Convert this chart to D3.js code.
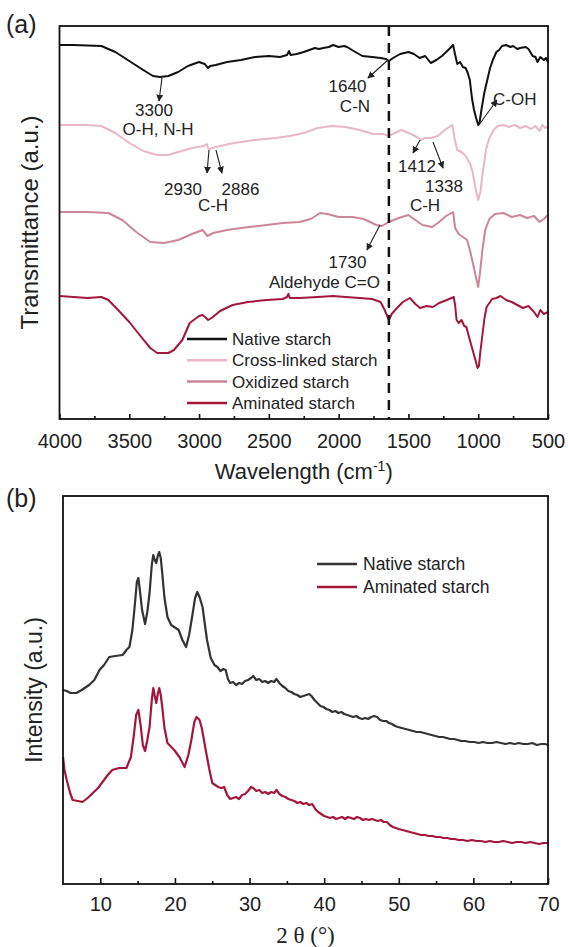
<!DOCTYPE html>
<html>
<head>
<meta charset="utf-8">
<script src="https://cdn.jsdelivr.net/npm/d3@7"></script>
<style>
  body { margin: 0; background: #fff; }
  text { font-family: "Liberation Sans", Arial, sans-serif; fill: #222; }
</style>
</head>
<body>
<script>
// ---- FTIR data (wavenumber cm-1, transmittance a.u.) ----
var ftirNative = [[4000,374],[3900,374],[3800,373.5],[3700,373],[3600,367],[3500,358],[3400,349],[3330,343],[3280,342],[3220,343],[3150,347],[3080,353],[3000,357],[2960,355],[2935,351],[2920,353],[2880,354],[2800,357],[2700,359],[2600,362],[2500,363],[2420,362],[2370,364],[2355,368],[2345,364],[2300,365],[2250,367],[2170,371],[2140,370],[2110,371],[2070,372],[2040,374],[2000,372],[1960,373],[1940,372],[1880,367],[1830,363],[1760,362],[1700,361],[1660,360],[1640,358],[1610,361],[1560,365],[1500,367],[1460,365],[1420,361],[1380,363],[1340,356],[1300,359],[1260,363],[1230,367],[1200,371],[1180,374],[1165,364],[1150,355],[1130,357],[1110,352],[1090,351],[1075,346],[1060,339],[1045,321],[1030,309],[1015,301],[1000,294],[990,297],[975,311],[955,327],[935,339],[915,351],[895,359],[870,367],[850,369],[830,373],[800,374],[770,372],[750,373],[720,370],[700,371],[660,372],[640,370],[610,363],[590,362],[575,357],[555,362],[530,359],[515,361],[500,357]];

var ftirCross = [[4000,294],[3800,294],[3700,293],[3600,286],[3500,276],[3400,268],[3300,264],[3220,264],[3150,267],[3050,271],[2970,273],[2945,275],[2930,269],[2910,271],[2850,273],[2750,276],[2600,279],[2450,281],[2350,283],[2250,286],[2150,291],[2050,293],[1950,292],[1850,289],[1750,285],[1680,285],[1640,283],[1600,286],[1550,289],[1480,285],[1440,282],[1412,279],[1380,281],[1340,281],[1290,283],[1240,289],[1185,294],[1170,281],[1150,269],[1120,267],[1090,263],[1060,256],[1040,247],[1020,231],[1000,219],[985,227],[965,249],[945,269],[920,281],[890,289],[860,293],[820,294],[780,292],[740,294],[700,291],[660,293],[620,290],[590,293],[560,288],[540,294],[520,291],[500,293]];

var ftirOxidized = [[4000,207],[3800,207],[3650,206],[3550,199],[3450,187],[3350,177],[3250,176],[3150,179],[3050,185],[2975,189],[2940,183],[2900,186],[2800,189],[2700,191],[2515,194],[2400,196],[2280,197],[2200,200],[2133,206],[2080,205],[2000,202],[1900,202],[1820,200],[1730,194],[1690,193],[1640,197],[1570,201],[1500,204],[1450,199],[1400,194],[1330,192],[1280,197],[1230,203],[1180,207],[1165,191],[1140,185],[1110,182],[1080,179],[1060,169],[1040,157],[1020,144],[1000,132],[985,149],[970,169],[950,189],[920,200],[880,205],[820,206],[760,202],[700,204],[650,201],[600,203],[560,197],[530,200],[500,204]];

var ftirAminated = [[4000,123],[3900,122],[3800,121],[3700,122],[3650,119],[3580,109],[3500,97],[3420,83],[3350,71],[3300,66],[3220,66],[3180,69],[3120,79],[3067,96],[3000,103],[2975,104],[2950,101],[2935,99],[2900,102],[2850,108],[2760,114],[2650,117],[2515,119],[2400,120],[2370,122],[2360,125],[2350,121],[2280,121],[2150,122],[2040,123],[1950,122],[1850,121],[1760,120],[1700,117],[1670,109],[1640,99],[1620,105],[1582,111],[1540,117],[1490,121],[1450,115],[1417,111],[1370,113],[1325,112],[1280,116],[1225,119],[1175,122],[1165,113],[1155,99],[1140,96],[1120,99],[1100,93],[1085,92],[1070,84],[1060,79],[1040,69],[1020,59],[1005,51],[995,53],[985,67],[970,84],[955,101],[940,112],[900,120],[870,121],[840,123],[800,119],[760,117],[720,114],[680,111],[640,113],[600,107],[575,102],[555,109],[530,105],[500,107]];

var ftirNames = ["Native starch", "Cross-linked starch", "Oxidized starch", "Aminated starch"];
var ftirTicks = [4000, 3500, 3000, 2500, 2000, 1500, 1000, 500];
var ftirMinor = [3750, 3250, 2750, 2250, 1750, 1250, 750];
var markerWave = 1640;

// peak labels (wavenumber, a.u.)
var ftirLabels = [
  {text: "3300", w: 3323, v: 303, anchor: "middle"},
  {text: "O-H, N-H", w: 3294, v: 284, anchor: "middle"},
  {text: "2930", w: 3115, v: 224, anchor: "middle"},
  {text: "2886", w: 2703, v: 224, anchor: "middle"},
  {text: "C-H", w: 2900, v: 208, anchor: "middle"},
  {text: "1640", w: 1937, v: 327, anchor: "middle"},
  {text: "C-N", w: 1883, v: 307, anchor: "middle"},
  {text: "C-OH", w: 894, v: 314, anchor: "start"},
  {text: "1412", w: 1439, v: 247, anchor: "middle"},
  {text: "1338", w: 1245, v: 227, anchor: "middle"},
  {text: "C-H", w: 1381, v: 208, anchor: "middle"},
  {text: "1730", w: 1937, v: 151, anchor: "middle"},
  {text: "Aldehyde C=O", w: 1704, v: 131, anchor: "end"}
];
// arrows [from w, from v, to w, to v], head at "to"
var ftirArrows = [
  [3266, 341, 3287, 318],
  [2929, 269, 2943, 246],
  [2879, 269, 2836, 246],
  [1647, 359, 1790, 341],
  [995, 294, 866, 319],
  [1417, 279, 1467, 266],
  [1324, 277, 1252, 251],
  [1704, 194, 1797, 169]
];

// ---- XRD data (2 theta deg, intensity a.u.) ----
var xrdNative = [[5,194],[5.5,193],[6,191],[6.8,191],[7.5,194],[8.5,199],[9.2,204],[9.9,214],[10.5,219],[11.2,227],[12,228],[13,229],[13.5,234],[13.9,237],[14.3,254],[14.6,277],[14.9,302],[15.1,306],[15.3,294],[15.6,274],[16,260],[16.3,272],[16.6,291],[16.9,319],[17.1,329],[17.3,324],[17.5,321],[17.7,328],[17.9,332],[18.1,326],[18.3,311],[18.6,286],[19,267],[19.5,259],[19.9,257],[20.5,254],[21,244],[21.5,237],[21.9,249],[22.3,267],[22.7,286],[23,292],[23.3,287],[23.7,277],[24.3,244],[24.8,226],[25.3,219],[25.7,217],[26.1,213],[26.5,215],[26.8,214],[27.1,205],[27.4,201],[27.8,202],[28.2,199],[28.6,201],[29,200],[29.4,203],[29.8,204],[30.2,206],[30.5,208],[30.9,204],[31.3,205],[31.7,202],[32.1,203],[32.5,201],[32.9,203],[33.3,202],[33.6,205],[34,201],[34.4,198],[34.8,196],[35.2,193],[35.6,192],[36,190],[36.4,189],[36.8,187],[37.2,188],[37.6,189],[38,190],[38.3,188],[38.7,184],[39.1,181],[39.5,178],[39.9,177],[40.3,175],[40.7,174],[41.1,172],[41.5,173],[41.9,171],[42.3,172],[42.7,170],[43.1,169],[43.5,168],[43.9,167],[44.3,168],[44.7,166],[45.1,165],[45.5,166],[45.9,165],[46.3,167],[46.7,168],[47.1,167],[47.5,164],[47.9,163],[48.3,163],[48.7,161],[49.1,160],[49.5,158],[49.9,157],[50.4,156],[50.9,155],[51.4,154],[51.9,153],[52.4,152],[52.9,152],[53.4,151],[53.9,150],[54.4,149],[54.9,148],[55.4,147],[55.9,147],[56.4,146],[56.9,145],[57.4,145],[57.9,144],[58.4,143],[58.9,143],[59.5,142],[60.1,142],[60.7,141],[61.3,142],[61.9,141],[62.5,141],[63.1,142],[63.7,141],[64.3,140],[64.9,141],[65.5,140],[66.1,141],[66.7,140],[67.3,140],[67.9,141],[68.5,139],[69.1,140],[69.6,140],[70,139]];

var xrdAminated = [[5,127],[5.2,114],[5.5,104],[6,90],[6.3,84],[7,83],[7.6,82],[8.3,86],[9,91],[9.7,96],[10.3,102],[11,109],[11.6,114],[12.5,116],[13.5,116],[14.1,127],[14.5,149],[14.8,169],[15.1,174],[15.4,159],[15.7,139],[16,133],[16.3,144],[16.6,157],[16.9,184],[17.1,196],[17.3,188],[17.5,181],[17.7,190],[17.9,196],[18.1,189],[18.3,177],[18.6,156],[19,141],[19.9,134],[20.6,127],[21.3,117],[21.8,129],[22.2,144],[22.6,162],[22.9,167],[23.3,164],[23.6,156],[24.2,131],[24.6,115],[25,101],[25.4,99],[25.8,97],[26.2,96],[26.6,97],[27,89],[27.4,85],[27.8,86],[28.2,87],[28.6,85],[29,89],[29.4,90],[29.8,93],[30.2,97],[30.5,96],[30.9,93],[31.3,94],[31.7,91],[32.1,92],[32.5,90],[32.9,92],[33.3,91],[33.6,94],[34,90],[34.4,88],[34.8,87],[35.2,85],[35.6,84],[36,83],[36.4,81],[36.8,82],[37.2,80],[37.6,81],[38,79],[38.4,80],[38.8,75],[39.2,72],[39.6,70],[40,68],[40.4,67],[40.8,66],[41.2,67],[41.6,65],[42,66],[42.4,67],[42.8,65],[43.2,67],[43.6,66],[44,65],[44.4,67],[44.8,66],[45.2,64],[45.6,65],[46,64],[46.4,65],[46.8,64],[47.2,63],[47.6,64],[48,62],[48.4,62],[48.8,59],[49.2,57],[49.6,56],[50,55],[50.5,54],[51,53],[51.5,52],[52,51],[52.5,50],[53,49],[53.5,49],[54,48],[54.5,48],[55,47],[55.5,47],[56,46],[56.5,46],[57,45],[57.5,45],[58,44],[58.6,44],[59.2,43],[59.8,44],[60.4,43],[61,43],[61.6,42],[62.2,43],[62.8,42],[63.4,42],[64,43],[64.6,42],[65.2,41],[65.8,42],[66.4,42],[67,41],[67.6,42],[68.2,41],[68.8,40],[69.4,41],[70,41]];

var xrdNames = ["Native starch", "Aminated starch"];
var xrdTicks = [10, 20, 30, 40, 50, 60, 70];
var xrdMinor = [15, 25, 35, 45, 55, 65];

var ftirColors = ["#111111", "#e8b8c6", "#cc8698", "#a2173c"];
var xrdColors = ["#333333", "#a3173d"];

var svg = d3.select("body").append("svg")
    .attr("width", 568)
    .attr("height", 947);

// arrow head
svg.append("defs").append("marker")
    .attr("id", "head")
    .attr("viewBox", "0 0 10 10")
    .attr("refX", 9).attr("refY", 5)
    .attr("markerWidth", 7).attr("markerHeight", 7)
    .attr("markerUnits", "userSpaceOnUse")
    .attr("orient", "auto")
  .append("path")
    .attr("d", "M0,0L10,5L0,10Z")
    .attr("fill", "#222");

// ================= panel (a) =================
var boxA = {left: 59.5, right: 548, top: 26, bottom: 419};
var xA = d3.scaleLinear().domain([4000, 500]).range([boxA.left, boxA.right]);
var yA = d3.scaleLinear().domain([0, 393]).range([boxA.bottom, boxA.top]);

var gA = svg.append("g");

var lineA = d3.line()
    .x(function(d) { return xA(d[0]); })
    .y(function(d) { return yA(d[1]); });

gA.selectAll(".ftir")
  .data([ftirNative, ftirCross, ftirOxidized, ftirAminated])
  .enter().append("path")
    .attr("class", "ftir")
    .attr("d", lineA)
    .attr("fill", "none")
    .attr("stroke", function(d, i) { return ftirColors[i]; })
    .attr("stroke-width", 2)
    .attr("stroke-linejoin", "round");

gA.append("line")
    .attr("x1", xA(markerWave)).attr("x2", xA(markerWave))
    .attr("y1", boxA.top).attr("y2", boxA.bottom)
    .attr("stroke", "#111")
    .attr("stroke-width", 2.5)
    .attr("stroke-dasharray", "10,7");

gA.selectAll(".arr")
  .data(ftirArrows)
  .enter().append("line")
    .attr("class", "arr")
    .attr("x1", function(d) { return xA(d[0]); })
    .attr("y1", function(d) { return yA(d[1]); })
    .attr("x2", function(d) { return xA(d[2]); })
    .attr("y2", function(d) { return yA(d[3]); })
    .attr("stroke", "#222")
    .attr("stroke-width", 1.1)
    .attr("marker-end", "url(#head)");

gA.selectAll(".lab")
  .data(ftirLabels)
  .enter().append("text")
    .attr("class", "lab")
    .attr("x", function(d) { return xA(d.w); })
    .attr("y", function(d) { return yA(d.v); })
    .attr("text-anchor", function(d) { return d.anchor; })
    .style("font-size", "17px")
    .text(function(d) { return d.text; });

// legend (a)
var legA = gA.selectAll(".legA")
  .data(ftirNames)
  .enter().append("g")
    .attr("class", "legA")
    .attr("transform", function(d, i) { return "translate(187," + (339 + i * 21.3) + ")"; });
legA.append("line")
    .attr("x1", 0).attr("x2", 40)
    .attr("stroke", function(d, i) { return ftirColors[i]; })
    .attr("stroke-width", 2.5);
legA.append("text")
    .attr("x", 45).attr("dy", "0.35em")
    .style("font-size", "17px")
    .text(function(d) { return d; });

gA.append("rect")
    .attr("x", boxA.left).attr("y", boxA.top)
    .attr("width", boxA.right - boxA.left).attr("height", boxA.bottom - boxA.top)
    .attr("fill", "none").attr("stroke", "#111").attr("stroke-width", 1.8);

var axA = gA.append("g")
    .attr("transform", "translate(0," + boxA.bottom + ")")
    .call(d3.axisBottom(xA).tickValues(ftirTicks).tickSize(-5).tickPadding(15).tickFormat(d3.format("d")));
var axAm = gA.append("g")
    .attr("transform", "translate(0," + boxA.bottom + ")")
    .call(d3.axisBottom(xA).tickValues(ftirMinor).tickSize(-3).tickFormat(""));
[axA, axAm].forEach(function(a) {
  a.select(".domain").remove();
  a.selectAll("line").attr("stroke", "#111").attr("stroke-width", 1.6);
  a.selectAll("text").style("font-size", "20px").style("font-family", "'Liberation Sans', Arial, sans-serif").attr("fill", "#222");
});

var wl = gA.append("text")
    .attr("x", (boxA.left + boxA.right) / 2)
    .attr("y", 479)
    .attr("text-anchor", "middle")
    .style("font-size", "22px");
wl.append("tspan").text("Wavelength (cm");
wl.append("tspan").attr("dy", -8).style("font-size", "14px").text("-1");
wl.append("tspan").attr("dy", 8).text(")");

gA.append("text")
    .attr("transform", "translate(38," + ((boxA.top + boxA.bottom) / 2) + ") rotate(-90)")
    .attr("text-anchor", "middle")
    .style("font-size", "24px")
    .text("Transmittance (a.u.)");

svg.append("text").attr("x", 6).attr("y", 33).style("font-size", "25px").text("(a)");

// ================= panel (b) =================
var boxB = {left: 63, right: 548, top: 496, bottom: 884};
var xB = d3.scaleLinear().domain([5, 70]).range([boxB.left, boxB.right]);
var yB = d3.scaleLinear().domain([0, 388]).range([boxB.bottom, boxB.top]);

var gB = svg.append("g");

var lineB = d3.line()
    .x(function(d) { return xB(d[0]); })
    .y(function(d) { return yB(d[1]); });

gB.selectAll(".xrd")
  .data([xrdNative, xrdAminated])
  .enter().append("path")
    .attr("class", "xrd")
    .attr("d", lineB)
    .attr("fill", "none")
    .attr("stroke", function(d, i) { return xrdColors[i]; })
    .attr("stroke-width", 2.2)
    .attr("stroke-linejoin", "round");

var legB = gB.selectAll(".legB")
  .data(xrdNames)
  .enter().append("g")
    .attr("class", "legB")
    .attr("transform", function(d, i) { return "translate(317," + (564 + i * 23) + ")"; });
legB.append("line")
    .attr("x1", 0).attr("x2", 40)
    .attr("stroke", function(d, i) { return xrdColors[i]; })
    .attr("stroke-width", 2.5);
legB.append("text")
    .attr("x", 46).attr("dy", "0.35em")
    .style("font-size", "17.5px")
    .text(function(d) { return d; });

gB.append("rect")
    .attr("x", boxB.left).attr("y", boxB.top)
    .attr("width", boxB.right - boxB.left).attr("height", boxB.bottom - boxB.top)
    .attr("fill", "none").attr("stroke", "#111").attr("stroke-width", 1.8);

var axB = gB.append("g")
    .attr("transform", "translate(0," + boxB.bottom + ")")
    .call(d3.axisBottom(xB).tickValues(xrdTicks).tickSize(-6).tickPadding(13));
var axBm = gB.append("g")
    .attr("transform", "translate(0," + boxB.bottom + ")")
    .call(d3.axisBottom(xB).tickValues(xrdMinor).tickSize(-3).tickFormat(""));
[axB, axBm].forEach(function(a) {
  a.select(".domain").remove();
  a.selectAll("line").attr("stroke", "#111").attr("stroke-width", 1.6);
  a.selectAll("text").style("font-size", "20px").style("font-family", "'Liberation Sans', Arial, sans-serif").attr("fill", "#222");
});

gB.append("text")
    .attr("x", (boxB.left + boxB.right) / 2)
    .attr("y", 943)
    .attr("text-anchor", "middle")
    .style("font-size", "23px")
    .style("font-family", "'Liberation Serif', 'Times New Roman', serif")
    .text("2 \u03b8 (\u00b0)");

gB.append("text")
    .attr("transform", "translate(42," + ((boxB.top + boxB.bottom) / 2) + ") rotate(-90)")
    .attr("text-anchor", "middle")
    .style("font-size", "23px")
    .text("Intensity (a.u.)");

svg.append("text").attr("x", 6).attr("y", 507).style("font-size", "25px").text("(b)");
</script>
</body>
</html>
